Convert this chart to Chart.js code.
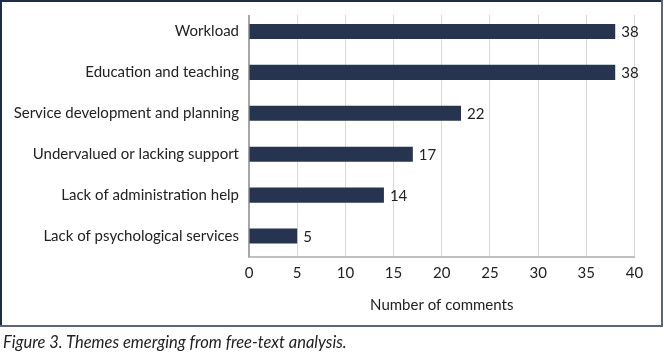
<!DOCTYPE html>
<html><head><meta charset="utf-8">
<script src="https://cdn.jsdelivr.net/npm/chart.js@4/dist/chart.umd.min.js"></script>
<style>
html,body{margin:0;padding:0;background:#fff;}
#wrap{position:absolute;left:0;top:0;width:664px;height:327px;}
#c{position:absolute;left:0;top:0;}
.b{position:absolute;}
#caption{position:absolute;left:3px;top:332px;font-family:Lato,"Open Sans",sans-serif;font-style:italic;font-size:16.5px;color:#222;white-space:nowrap;}
</style></head>
<body>
<div id="wrap"><canvas id="c" width="664" height="327"></canvas></div>
<div class="b" style="left:0;top:0;width:663px;height:2px;background:#1f2b47"></div>
<div class="b" style="left:0;top:0;width:2px;height:327px;background:#1f2b47"></div>
<div class="b" style="left:661px;top:0;width:2px;height:327px;background:#5d6577"></div>
<div class="b" style="left:0;top:325px;width:663px;height:2px;background:#5d6577"></div>
<div id="caption">Figure 3. Themes emerging from free-text analysis.</div>
<script>
const categories = ["Workload","Education and teaching","Service development and planning","Undervalued or lacking support","Lack of administration help","Lack of psychological services"];
const values = [38,38,22,17,14,5];
const xTicks = [0,5,10,15,20,25,30,35,40];
const FONT = "Lato, 'Open Sans', sans-serif";

const trimTop = {
  id:'trimTop',
  beforeDatasetsDraw(chart){
    const a = chart.chartArea, ctx = chart.ctx;
    ctx.save();
    ctx.fillStyle = '#fff';
    ctx.fillRect(a.left - 3, a.top - 2, a.right - a.left + 5, 6);
    ctx.restore();
  }
};

const valueLabels = {
  id:'valueLabels',
  afterDatasetsDraw(chart){
    const ctx = chart.ctx;
    const meta = chart.getDatasetMeta(0);
    ctx.save();
    ctx.font = "15px " + FONT;
    ctx.fillStyle = "#222";
    ctx.textBaseline = "middle";
    ctx.textAlign = "left";
    meta.data.forEach((bar,i)=>{
      ctx.fillText(String(values[i]), bar.x + 6, bar.y + 1);
    });
    ctx.restore();
  }
};

new Chart(document.getElementById('c'),{
  type:'bar',
  data:{labels:categories,datasets:[{data:values,backgroundColor:'#27344f',borderWidth:0,categoryPercentage:1,barPercentage:0.37}]},
  options:{
    indexAxis:'y',responsive:false,animation:false,
    layout:{padding:{top:11,right:29.5,left:0,bottom:0}},
    plugins:{legend:{display:false},tooltip:{enabled:false}},
    scales:{
      x:{min:0,max:40,
        afterBuildTicks(s){s.ticks = xTicks.map(v=>({value:v}));},
        afterFit(s){s.height = 70.5; s.paddingLeft = 0; s.paddingRight = 0;},
        grid:{color:'#d9d9d9',lineWidth:1,drawTicks:false},
        border:{display:true,color:'#bfbfbf',width:2},
        ticks:{padding:8,color:'#222',font:{family:FONT,size:15}},
        title:{display:true,text:'Number of comments',color:'#222',font:{family:FONT,size:15},padding:{top:12.5,bottom:12.5}}
      },
      y:{
        afterFit(s){s.width = 249; s.paddingTop = 0; s.paddingBottom = 0;},
        grid:{display:false,drawTicks:false},
        border:{display:true,color:'#a6a6a6',width:2},
        ticks:{padding:10,color:'#222',font:{family:FONT,size:15}}
      }
    }
  },
  plugins:[valueLabels, trimTop]
});
</script>
</body></html>
